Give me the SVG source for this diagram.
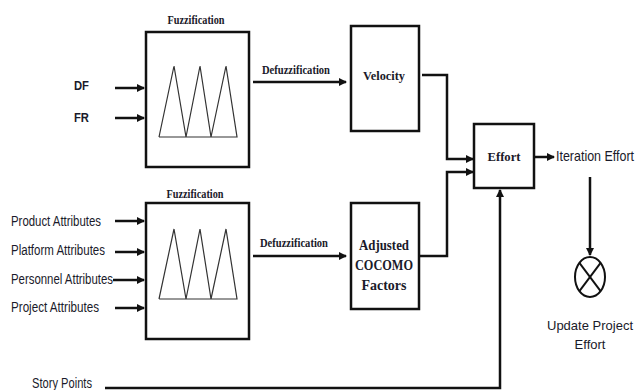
<svg xmlns="http://www.w3.org/2000/svg" width="638" height="390" viewBox="0 0 638 390">
<style>
.box{fill:#fff;stroke:#111;stroke-width:2.5}
.tri{fill:none;stroke:#333;stroke-width:1.2}
.ln{fill:none;stroke:#111;stroke-width:2.5}
.ser{font-family:"Liberation Serif",serif;font-weight:bold;fill:#1a1a2a}
.san{font-family:"Liberation Sans",sans-serif;fill:#1a1a2a}
</style>
<defs>
<marker id="ah" markerUnits="userSpaceOnUse" markerWidth="8" markerHeight="8" refX="7" refY="4" orient="auto">
<path d="M0,0 L8,4 L0,8 Z" fill="#111"/>
</marker>
</defs>
<rect width="638" height="390" fill="#fff"/>

<g id="fuzz1">
<rect class="box" x="146" y="32" width="103" height="135"/>
<polyline class="tri" points="159,137 174,66 186,137 200,66 211,137 226,66 237,137 159,137"/>
<text class="ser" x="196" y="24" font-size="13.5" text-anchor="middle" textLength="57" lengthAdjust="spacingAndGlyphs">Fuzzification</text>
</g>
<g id="fuzz2">
<rect class="box" x="146" y="203" width="103" height="136"/>
<polyline class="tri" points="159,299 174,229 186,299 200,229 211,299 226,229 237,299 159,299"/>
<text class="ser" x="195" y="198" font-size="13.5" text-anchor="middle" textLength="57" lengthAdjust="spacingAndGlyphs">Fuzzification</text>
</g>
<g id="velocity">
<rect class="box" x="351" y="26" width="68" height="105"/>
<text class="ser" x="384" y="80" font-size="13.5" text-anchor="middle" textLength="42" lengthAdjust="spacingAndGlyphs">Velocity</text>
</g>
<g id="cocomo">
<rect class="box" x="351" y="203" width="68" height="106"/>
<text class="ser" x="384" y="250" font-size="14" text-anchor="middle" textLength="50" lengthAdjust="spacingAndGlyphs">Adjusted</text>
<text class="ser" x="384" y="270" font-size="14" text-anchor="middle" textLength="58" lengthAdjust="spacingAndGlyphs">COCOMO</text>
<text class="ser" x="384" y="290" font-size="14" text-anchor="middle" textLength="45" lengthAdjust="spacingAndGlyphs">Factors</text>
</g>
<g id="effort">
<rect class="box" x="474" y="124" width="60" height="64"/>
<text class="ser" x="504" y="161" font-size="13.5" text-anchor="middle" textLength="33" lengthAdjust="spacingAndGlyphs">Effort</text>
</g>
<g id="update">
<ellipse cx="590" cy="277" rx="15" ry="20" fill="#fff" stroke="#111" stroke-width="2"/>
<line x1="579.4" y1="262.9" x2="600.6" y2="291.1" stroke="#111" stroke-width="2"/>
<line x1="600.6" y1="262.9" x2="579.4" y2="291.1" stroke="#111" stroke-width="2"/>
<text class="san" x="590" y="330" font-size="13" text-anchor="middle">Update Project</text>
<text class="san" x="590" y="349" font-size="13" text-anchor="middle">Effort</text>
</g>

<g id="labels">
<text class="san" x="74" y="90" font-size="13.5" font-weight="bold" textLength="15" lengthAdjust="spacingAndGlyphs">DF</text>
<text class="san" x="74" y="122" font-size="13.5" font-weight="bold" textLength="15" lengthAdjust="spacingAndGlyphs">FR</text>
<text class="san" x="11" y="226" font-size="14" textLength="90" lengthAdjust="spacingAndGlyphs">Product Attributes</text>
<text class="san" x="11" y="255" font-size="14" textLength="94" lengthAdjust="spacingAndGlyphs">Platform Attributes</text>
<text class="san" x="11" y="284" font-size="14" textLength="102" lengthAdjust="spacingAndGlyphs">Personnel Attributes</text>
<text class="san" x="11" y="312" font-size="14" textLength="88" lengthAdjust="spacingAndGlyphs">Project Attributes</text>
<text class="san" x="32" y="388" font-size="14" textLength="60" lengthAdjust="spacingAndGlyphs">Story Points</text>
<text class="ser" x="262" y="74" font-size="13" textLength="68" lengthAdjust="spacingAndGlyphs">Defuzzification</text>
<text class="ser" x="260" y="247" font-size="13" textLength="68" lengthAdjust="spacingAndGlyphs">Defuzzification</text>
<text class="san" x="556" y="161" font-size="14.5" textLength="78" lengthAdjust="spacingAndGlyphs">Iteration Effort</text>
</g>

<g id="connectors">
<line class="ln" x1="115" y1="88" x2="144" y2="88" marker-end="url(#ah)"/>
<line class="ln" x1="115" y1="118" x2="144" y2="118" marker-end="url(#ah)"/>
<line class="ln" x1="115" y1="221" x2="144" y2="221" marker-end="url(#ah)"/>
<line class="ln" x1="115" y1="252" x2="144" y2="252" marker-end="url(#ah)"/>
<line class="ln" x1="113" y1="280" x2="144" y2="280" marker-end="url(#ah)"/>
<line class="ln" x1="115" y1="308" x2="144" y2="308" marker-end="url(#ah)"/>
<line class="ln" x1="253" y1="82" x2="346" y2="82" marker-end="url(#ah)"/>
<line class="ln" x1="253" y1="256" x2="346" y2="256" marker-end="url(#ah)"/>
<polyline class="ln" points="422,75 447,75 447,159 473,159" marker-end="url(#ah)"/>
<polyline class="ln" points="420,256 447,256 447,172 473,172" marker-end="url(#ah)"/>
<polyline class="ln" points="105,388 500,388 500,190" marker-end="url(#ah)"/>
<line class="ln" x1="535" y1="157" x2="554" y2="157" marker-end="url(#ah)"/>
<line class="ln" x1="590" y1="177" x2="590" y2="255" marker-end="url(#ah)"/>
</g>
</svg>
